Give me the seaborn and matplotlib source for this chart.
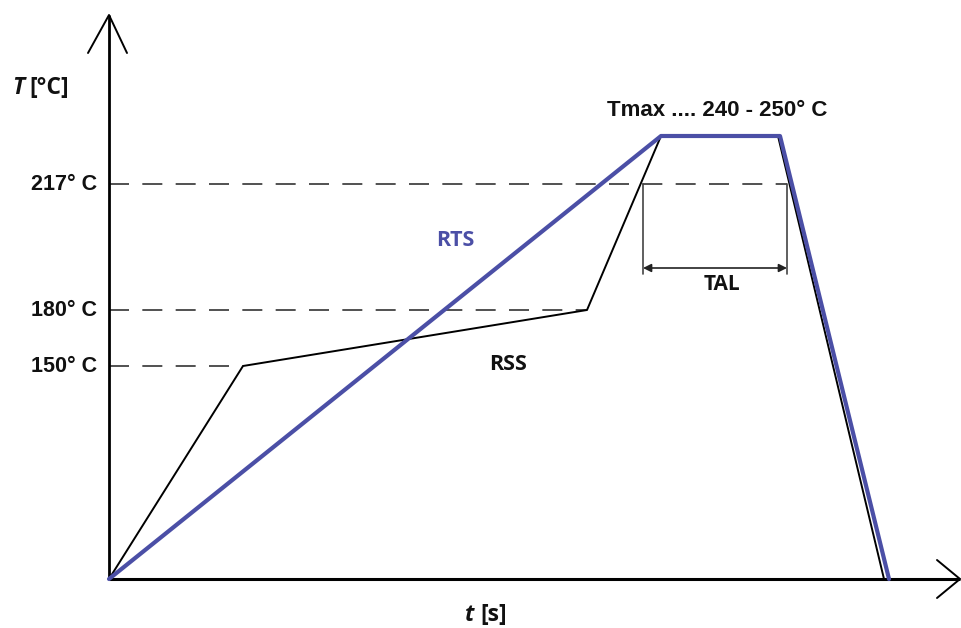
import matplotlib
matplotlib.use("Agg")
import matplotlib.pyplot as plt
import seaborn as sns
import pandas as pd

# Schematic data (time units, schematic temperature units)
rss_t = [0, 134, 478, 552, 669, 775]
rss_T = [0, 213, 269, 443, 443, 0]
rts_t = [0, 552, 671, 780]
rts_T = [0, 443, 443, 0]

level_labels = ["150° C", "180° C", "217° C"]
level_values = [213, 269, 395]
level_ends = [134, 478, 678]

tal_start, tal_end = 534, 678
tmax_label = "Tmax .... 240 - 250° C"

sns.set_theme(style="white")
plt.rcParams['font.family'] = ['Liberation Sans', 'DejaVu Sans']
CAL = ['Open Sans', 'DejaVu Sans']

fig = plt.figure(figsize=(9.62, 6.28), dpi=100)
ax = fig.add_axes([0, 0, 1, 1])

# dashed reference levels
for lab, v, e in zip(level_labels, level_values, level_ends):
    ax.plot([0, e], [v, v], color="#333333", lw=1.2, dashes=(12, 8), zorder=1)
    ax.text(-12, v, lab, ha="right", va="center", fontsize=15.5,
            fontweight="bold", color="#111111")

df_rss = pd.DataFrame({"t": rss_t, "T": rss_T})
df_rts = pd.DataFrame({"t": rts_t, "T": rts_T})
sns.lineplot(data=df_rss, x="t", y="T", sort=False, color="black", lw=1.4, ax=ax, zorder=3)
sns.lineplot(data=df_rts, x="t", y="T", sort=False, color="#4b4fa6", lw=3.0, ax=ax, zorder=4)
ax.set_xlim(-109, 853)
ax.set_ylim(-49, 579)
ax.axis("off")

# axes with open arrowheads
ax.plot([0, 0], [0, 564], color="black", lw=2.0, zorder=2, solid_capstyle="butt")
ax.plot([-21, 0, 18], [526, 564, 526], color="black", lw=1.4, zorder=2)
ax.plot([0, 851], [0, 0], color="black", lw=2.2, zorder=2, solid_capstyle="butt")
ax.plot([828, 851, 828], [19, 0, -19], color="black", lw=1.4, zorder=2)

# TAL bracket
top = level_values[2]
ax.plot([tal_start, tal_start], [top, 305], color="#444444", lw=1.2)
ax.plot([tal_end, tal_end], [top, 305], color="#444444", lw=1.2)
ax.annotate("", xy=(tal_start, 311), xytext=(tal_end, 311),
            arrowprops=dict(arrowstyle="<|-|>", color="#222222", lw=1.2,
                            shrinkA=0, shrinkB=0, mutation_scale=12))
ax.text(613, 294, "TAL", ha="center", va="center", family=CAL,
        fontsize=15, fontweight="bold", color="#111111")

# labels
ax.text(608, 469, tmax_label, ha="center", va="center", fontsize=16,
        fontweight="bold", color="#111111")
ax.text(346, 339, "RTS", ha="center", va="center", family=CAL, fontsize=15.5,
        fontweight="bold", color="#4b4fa6")
ax.text(399, 214, "RSS", ha="center", va="center", family=CAL, fontsize=15.5,
        fontweight="bold", color="#111111")

ax.text(-97, 491, "T", ha="left", va="center", fontsize=16.5, family=CAL,
        fontweight="bold", fontstyle="italic", color="#111111")
ax.text(-80, 491, "[°C]", ha="left", va="center", fontsize=16.5, family=CAL,
        fontweight="bold", color="#111111")
ax.text(356, -36, "t", ha="left", va="center", fontsize=16.5, family=CAL,
        fontweight="bold", fontstyle="italic", color="#111111")
ax.text(371, -36, "[s]", ha="left", va="center", fontsize=16.5, family=CAL,
        fontweight="bold", color="#111111")

fig.savefig("out.png", dpi=100, facecolor="white")
